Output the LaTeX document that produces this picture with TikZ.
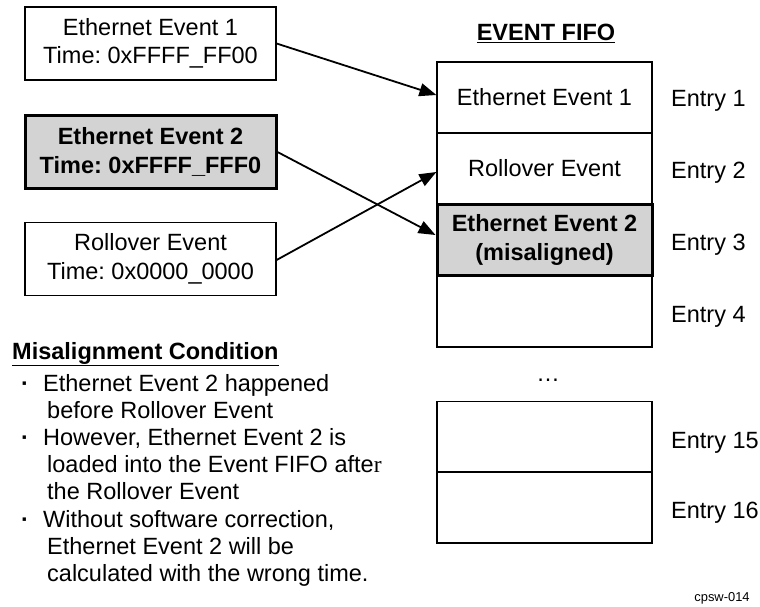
\documentclass[tikz,border=0pt]{standalone}
\usepackage{fontspec}
\setmainfont{Liberation Sans}
\newfontfamily\serifr{Liberation Serif}
\usetikzlibrary{arrows.meta}
\definecolor{boxgray}{RGB}{211,211,211}
\frenchspacing
\begin{document}
\begin{tikzpicture}[x=1pt,y=-1pt,
  every node/.style={font=\fontsize{23.5}{28.5}\selectfont},
  evbox/.style={draw, line width=1.2pt, minimum width=251pt, minimum height=73pt, align=center, inner sep=0pt},
  hibox/.style={evbox, fill=boxgray, line width=3pt, font=\fontsize{23.5}{28.5}\selectfont\bfseries},
  cell/.style={draw, line width=1.2pt, minimum width=215pt, minimum height=71pt, align=center, inner sep=0pt},
  hicell/.style={cell, fill=boxgray, line width=3pt, font=\fontsize{23.5}{28.5}\selectfont\bfseries},
  entry/.style={anchor=west, inner sep=0pt},
  arr/.style={line width=1.8pt, -{Triangle[length=17pt,width=13pt]}},
  bul/.style={anchor=base, inner sep=0pt},
  btxt/.style={anchor=north west, align=left, inner sep=0pt, font=\fontsize{23.5}{27.2}\selectfont}
]
\useasboundingbox (0,0) rectangle (760,606);

% left event boxes
\node[evbox] (e1) at (150.5,43.5) {Ethernet Event 1\\Time: 0xFFFF\_FF00};
\node[hibox] (e2) at (150.5,152) {Ethernet Event 2\\Time: 0xFFFF\_FFF0};
\node[evbox] (ro) at (150.5,259) {Rollover Event\\Time: 0x0000\_0000};

% FIFO title
\node[font=\fontsize{23.5}{28.5}\selectfont\bfseries] (title) at (546,33) {\underline{EVENT FIFO}};

% FIFO cells
\node[cell] (f1) at (544.5,97.5) {Ethernet Event 1};
\node[cell] (f2) at (544.5,168.5) {Rollover Event};
\node[cell] (f4) at (544.5,311.5) {};
\node[hicell] (f3) at (544.5,240) {Ethernet Event 2\\(misaligned)};
\node[bul] (dots) at (548,381) {\char"2026};
\node[cell] (f15) at (544.5,437) {};
\node[cell] (f16) at (544.5,507.5) {};

% entry labels
\node[entry] (l1) at (671,101) {Entry 1};
\node[entry] (l2) at (671,173) {Entry 2};
\node[entry] (l3) at (671,245) {Entry 3};
\node[entry] (l4) at (671,317) {Entry 4};
\node[entry] (l15) at (671,443) {Entry 15};
\node[entry] (l16) at (671,513) {Entry 16};

% arrows
\draw[arr] (e1.east) -- ([yshift=2.5pt]f1.west);
\draw[arr] (e2.east) -- ([yshift=5pt]f3.west);
\draw[arr] ([yshift=-1pt]ro.east) -- ([yshift=-3.5pt]f2.west);

% misalignment condition
\node[anchor=west, inner sep=0pt, font=\fontsize{23.5}{28.5}\selectfont\bfseries] (mc) at (12,354) {\underline{Misalignment Condition}};
\node[bul] (b1) at (25,391) {\textbf{\textperiodcentered}};
\node[btxt] (t1) at (43,374) {Ethernet Event 2 happened\\\hspace*{4pt}before Rollover Event};
\node[bul] (b2) at (25,445) {\textbf{\textperiodcentered}};
\node[btxt] (t2) at (43,428) {However, Ethernet Event 2 is\\\hspace*{4pt}loaded into the Event FIFO afte{\serifr r}\\\hspace*{4pt}the Rollover Event};
\node[bul] (b3) at (25,527) {\textbf{\textperiodcentered}};
\node[btxt] (t3) at (43,510) {Without software correction,\\\hspace*{4pt}Ethernet Event 2 will be\\\hspace*{4pt}calculated with the wrong time.};

\node[font=\fontsize{12.9}{15}\selectfont] (id) at (722,598) {cpsw-014};
\end{tikzpicture}
\end{document}
